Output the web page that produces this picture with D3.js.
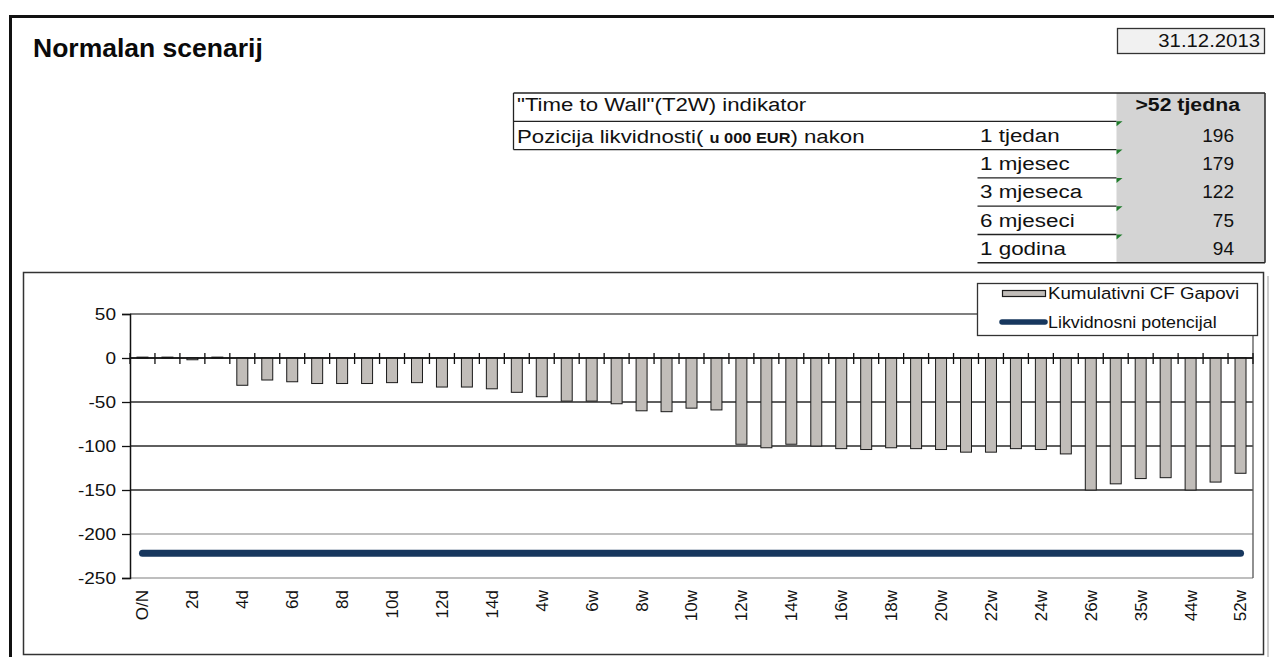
<!DOCTYPE html>
<html>
<head>
<meta charset="utf-8">
<script src="https://cdn.jsdelivr.net/npm/d3@7/dist/d3.min.js"></script>
<style>
  html, body { margin: 0; padding: 0; background: #fff; }
  svg { display: block; }
</style>
</head>
<body>
<script>
// ---- Data ----
const categories = [
  "O/N", "1d", "2d", "3d", "4d", "5d", "6d", "7d", "8d", "9d", "10d", "11d", "12d", "13d", "14d",
  "3w", "4w", "5w", "6w", "7w", "8w", "9w", "10w", "11w", "12w", "13w", "14w", "15w", "16w", "17w",
  "18w", "19w", "20w", "21w", "22w", "23w", "24w", "25w", "26w", "30w", "35w", "39w", "44w", "48w", "52w"
];
// Cumulative cash-flow gaps (000 EUR)
const gapValues = [
  1, 1, -2, 1, -31, -25, -27, -29, -29, -29, -28, -28, -33, -33, -35,
  -39, -44, -49, -49, -52, -60, -61, -57, -59, -98, -102, -98, -100, -103, -104,
  -102, -103, -104, -107, -107, -103, -104, -109, -150, -143, -137, -136, -150, -141, -131
];
// Liquidity potential
const potencijalValues = [
  -222, -222, -222, -222, -222, -222, -222, -222, -222, -222, -222, -222, -222, -222, -222,
  -222, -222, -222, -222, -222, -222, -222, -222, -222, -222, -222, -222, -222, -222, -222,
  -222, -222, -222, -222, -222, -222, -222, -222, -222, -222, -222, -222, -222, -222, -222
];
const yTicks = [50, 0, -50, -100, -150, -200, -250];

const horizons = ["1 tjedan", "1 mjesec", "3 mjeseca", "6 mjeseci", "1 godina"];
const horizonValues = [196, 179, 122, 75, 94];
const t2wValue = ">52 tjedna";
const reportDate = "31.12.2013";

const seriesNames = ["Kumulativni CF Gapovi", "Likvidnosni potencijal"];

// ---- Setup ----
const W = 1274, H = 657;
const FONT = "'Liberation Sans', Arial, Helvetica, sans-serif";
const svg = d3.select("body").append("svg").attr("width", W).attr("height", H)
  .style("font-family", FONT);

// text helper with a slight horizontal stretch
function label(g, x, y, s, o = {}) {
  const t = g.append("text")
    .attr("transform", `translate(${x},${y}) scale(${o.sx || 1},1)`)
    .attr("font-size", o.size || 19)
    .attr("font-weight", o.bold ? "bold" : "normal")
    .attr("text-anchor", o.anchor || "start")
    .attr("fill", o.fill || "#111")
    .text(s);
  return t;
}

// ---- Outer sheet frame ----
svg.append("path").attr("d", `M10.5,${H} V16.5 H${W}`)
  .attr("fill", "none").attr("stroke", "#111").attr("stroke-width", 3);

// Title
label(svg, 33, 57, "Normalan scenarij", { size: 26.5, bold: true, fill: "#0a0a0a" });

// Date box
svg.append("rect").attr("x", 1117.5).attr("y", 28.5).attr("width", 147).attr("height", 25)
  .attr("fill", "#f1f1f1").attr("stroke", "#333").attr("stroke-width", 1.3);
label(svg, 1260, 47, reportDate, { size: 18, sx: 1.13, anchor: "end" });

// ---- Indicator table ----
const tbl = svg.append("g");
const rowTop = i => 93 + i * 28.3;
const xLeft = 513.5, xLab = 977.5, xVal = 1116.5, xRight = 1265;

// grey value column
tbl.append("rect").attr("x", xVal).attr("y", rowTop(0)).attr("width", xRight - xVal)
  .attr("height", rowTop(6) - rowTop(0)).attr("fill", "#d4d4d4");

const ln = (x1, y1, x2, y2, w = 1.3, c = "#222") =>
  tbl.append("line").attr("x1", x1).attr("y1", y1).attr("x2", x2).attr("y2", y2)
    .attr("stroke", c).attr("stroke-width", w);

ln(xLeft, rowTop(0), xRight, rowTop(0), 1.5);
ln(xLeft, rowTop(1), xVal, rowTop(1));
ln(xLeft, rowTop(2), xVal, rowTop(2));
ln(xLeft, rowTop(0), xLeft, rowTop(2));
for (let i = 3; i <= 5; i++) ln(xLab, rowTop(i), xVal, rowTop(i));
ln(xLab, rowTop(6), xRight, rowTop(6), 1.6);
ln(xRight, rowTop(0), xRight, rowTop(6), 1.6, "#333");

label(tbl, 517, rowTop(1) - 10, '"Time to Wall"(T2W) indikator', { size: 19, sx: 1.17 });
label(tbl, 1240, rowTop(1) - 10, t2wValue, { size: 19, sx: 1.12, bold: true, anchor: "end" });

const poz = label(tbl, 517, rowTop(2) - 7, "Pozicija likvidnosti( ", { size: 19, sx: 1.17 });
poz.append("tspan").attr("font-size", 14).attr("font-weight", "bold").text("u 000 EUR");
poz.append("tspan").text(") nakon");

horizons.forEach((h, i) => {
  const base = rowTop(i + 2) - 8;
  label(tbl, 980, base, h, { size: 19, sx: 1.18 });
  label(tbl, 1234, base, String(horizonValues[i]), { size: 19, sx: 1.0, anchor: "end" });
  tbl.append("path")
    .attr("d", `M${xVal},${rowTop(i + 1)} h6 L${xVal},${rowTop(i + 1) + 5} Z`)
    .attr("fill", "#1e7b2a");
});

// ---- Chart box ----
svg.append("rect").attr("x", 23.5).attr("y", 272.5).attr("width", 1240).attr("height", 382)
  .attr("fill", "none").attr("stroke", "#333").attr("stroke-width", 1.5);
svg.append("line").attr("x1", 1268).attr("x2", 1268).attr("y1", 276).attr("y2", H)
  .attr("stroke", "#bbb").attr("stroke-width", 1.5);

// ---- Scales ----
const plotL = 130, plotR = 1253, plotT = 314, plotB = 578;
const x = d3.scaleBand().domain(categories).range([plotL, plotR])
  .paddingInner(0.56).paddingOuter(0.28);
const xCat = d3.scaleBand().domain(categories).range([plotL, plotR]);
const y = d3.scaleLinear().domain([-250, 50]).range([plotB, plotT]);
const cx = c => x(c) + x.bandwidth() / 2;

const plot = svg.append("g");

// gridlines
plot.selectAll("line.grid").data(yTicks).join("line")
  .attr("class", "grid")
  .attr("x1", plotL).attr("x2", plotR)
  .attr("y1", d => y(d)).attr("y2", d => y(d))
  .attr("stroke", d => d < -175 ? "#a9a9a9" : (d === 50 ? "#555" : "#2a2a2a"))
  .attr("stroke-width", 1.3);
// right border of plot area
plot.append("line").attr("x1", plotR).attr("x2", plotR).attr("y1", plotT).attr("y2", plotB)
  .attr("stroke", "#555").attr("stroke-width", 1.3);

// y axis
const yAxis = plot.append("g").attr("transform", `translate(${plotL},0)`)
  .call(d3.axisLeft(y).tickValues(yTicks).tickSize(8).tickFormat(d => String(d)));
yAxis.select(".domain").attr("stroke", "#111").attr("stroke-width", 1.5);
yAxis.selectAll(".tick line").attr("stroke", "#111").attr("stroke-width", 1.3);
yAxis.selectAll(".tick text")
  .attr("x", null)
  .attr("transform", "translate(-14,0) scale(1.12,1)")
  .attr("font-size", 17).attr("font-family", FONT).attr("fill", "#111");

// bars
plot.selectAll("rect.bar").data(categories).join("rect")
  .attr("class", "bar")
  .attr("x", c => x(c))
  .attr("width", x.bandwidth())
  .attr("y", (c, i) => Math.min(y(gapValues[i]), y(0)))
  .attr("height", (c, i) => Math.abs(y(gapValues[i]) - y(0)))
  .attr("fill", "#c1bdb9").attr("stroke", "#1a1a1a").attr("stroke-width", 1);

// category axis at zero with crossing tick marks
plot.append("line").attr("x1", plotL).attr("x2", plotR).attr("y1", y(0)).attr("y2", y(0))
  .attr("stroke", "#111").attr("stroke-width", 1.5);
const bounds = categories.map(c => xCat(c)).concat([plotR]);
plot.selectAll("line.xtick").data(bounds).join("line")
  .attr("class", "xtick")
  .attr("x1", d => d).attr("x2", d => d)
  .attr("y1", y(0) - 5).attr("y2", y(0) + 6)
  .attr("stroke", "#111").attr("stroke-width", 1.3);

// category labels (every second one)
plot.selectAll("text.xlab").data(categories.filter((c, i) => i % 2 === 0)).join("text")
  .attr("class", "xlab")
  .attr("transform", c => `translate(${cx(c)},590) rotate(-90)`)
  .attr("dy", "0.35em")
  .attr("text-anchor", "end")
  .attr("font-size", 17)
  .attr("fill", "#111")
  .text(c => c);

// liquidity potential line
const line = d3.line().x((d, i) => cx(categories[i])).y(d => y(d));
plot.append("path").datum(potencijalValues)
  .attr("d", line)
  .attr("fill", "none").attr("stroke", "#17375e").attr("stroke-width", 7)
  .attr("stroke-linecap", "round");

// ---- Legend ----
const lg = svg.append("g");
lg.append("rect").attr("x", 977.5).attr("y", 283.5).attr("width", 280).attr("height", 52)
  .attr("fill", "#fff").attr("stroke", "#333").attr("stroke-width", 1.3);
lg.append("rect").attr("x", 1002.5).attr("y", 290.5).attr("width", 43).attr("height", 6)
  .attr("fill", "#c1bdb9").attr("stroke", "#1a1a1a").attr("stroke-width", 1.2);
label(lg, 1048, 299, seriesNames[0], { size: 17, sx: 1.1 });
lg.append("line").attr("x1", 1002).attr("x2", 1045).attr("y1", 322).attr("y2", 322)
  .attr("stroke", "#17375e").attr("stroke-width", 5.5).attr("stroke-linecap", "round");
label(lg, 1048, 328, seriesNames[1], { size: 17, sx: 1.05 });
</script>
</body>
</html>
